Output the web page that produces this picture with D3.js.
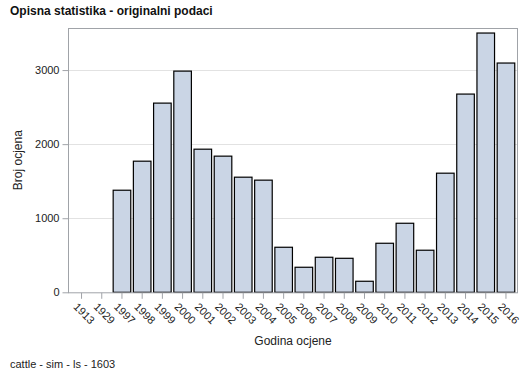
<!DOCTYPE html>
<html><head><meta charset="utf-8">
<script src="https://cdn.jsdelivr.net/npm/d3@7"></script>
<style>body{margin:0;background:#fff}svg{display:block}text{font-family:Arial,"Liberation Sans",sans-serif}</style>
</head><body>
<svg id="c" width="529" height="378"></svg>
<script>
const categories = ["1913","1929","1997","1998","1999","2000","2001","2002","2003","2004","2005","2006","2007","2008","2009","2010","2011","2012","2013","2014","2015","2016"];
const values = [0,0,1378,1770,2554,2986,1932,1838,1554,1514,608,338,473,459,149,662,932,568,1608,2676,3500,3095];
const yTicks = [0,1000,2000,3000];
const title = "Opisna statistika - originalni podaci";
const xLabel = "Godina ocjene";
const yLabel = "Broj ocjena";
const footnote = "cattle - sim - ls - 1603";

const svg = d3.select("#c");
const L = 68, R = 518, T = 28, B = 292.3;
const x = d3.scaleBand().domain(categories).range([72.75, 514.75]).paddingInner(0.13).paddingOuter(0);
const y = d3.scaleLinear().domain([0, 3568]).range([B, T]);

// gridlines
svg.append("g").selectAll("line").data(yTicks.filter(d=>d>0)).join("line")
  .attr("x1", L).attr("x2", R).attr("y1", d=>Math.round(y(d))+0.5).attr("y2", d=>Math.round(y(d))+0.5)
  .attr("stroke", "#e2e2e2").attr("stroke-width", 1);

// bars
svg.append("g").selectAll("rect").data(values.map((v,i)=>({c:categories[i],v})).filter(d=>d.v>0)).join("rect")
  .attr("x", d=>x(d.c)).attr("width", x.bandwidth())
  .attr("y", d=>y(d.v)).attr("height", d=>B - y(d.v))
  .attr("fill", "#cad5e5").attr("stroke", "#000").attr("stroke-width", 1.2);

// frame
svg.append("rect").attr("x", L+0.5).attr("y", T+0.5).attr("width", R-L-1).attr("height", B-T)
  .attr("fill", "none").attr("stroke", "#a0a3a8").attr("stroke-width", 1);

// y axis
const ya = svg.append("g").attr("transform", `translate(${L+0.5},0)`)
  .call(d3.axisLeft(y).tickValues(yTicks).tickSize(6).tickSizeOuter(0).tickFormat(d3.format("d")));
ya.select(".domain").remove();
ya.selectAll("line").attr("stroke", "#a0a3a8");
ya.selectAll("text").attr("font-size", 11).attr("fill", "#222").attr("font-family", "Arial, 'Liberation Sans', sans-serif");

// x axis
const xa = svg.append("g").attr("transform", `translate(0,${B+0.5})`)
  .call(d3.axisBottom(x).tickSize(6).tickSizeOuter(0));
xa.select(".domain").remove();
xa.selectAll("line").attr("stroke", "#a0a3a8");
xa.selectAll("text").attr("font-size", 11).attr("fill", "#222").attr("font-family", "Arial, 'Liberation Sans', sans-serif")
  .attr("text-anchor", "start").attr("y", 0).attr("dy", "0.35em")
  .attr("transform", "translate(-6,12) rotate(45)");

svg.append("text").attr("x", 10).attr("y", 15).attr("font-size", 12).attr("font-weight", "bold").attr("fill", "#111").text(title);
svg.append("text").attr("x", (L+R)/2).attr("y", 345).attr("text-anchor", "middle").attr("font-size", 12).attr("fill", "#222").text(xLabel);
svg.append("text").attr("transform", `translate(22,${(T+B)/2}) rotate(-90)`).attr("text-anchor", "middle").attr("font-size", 12).attr("fill", "#222").text(yLabel);
svg.append("text").attr("x", 10).attr("y", 368).attr("font-size", 11).attr("fill", "#222").text(footnote);
</script>
</body></html>
